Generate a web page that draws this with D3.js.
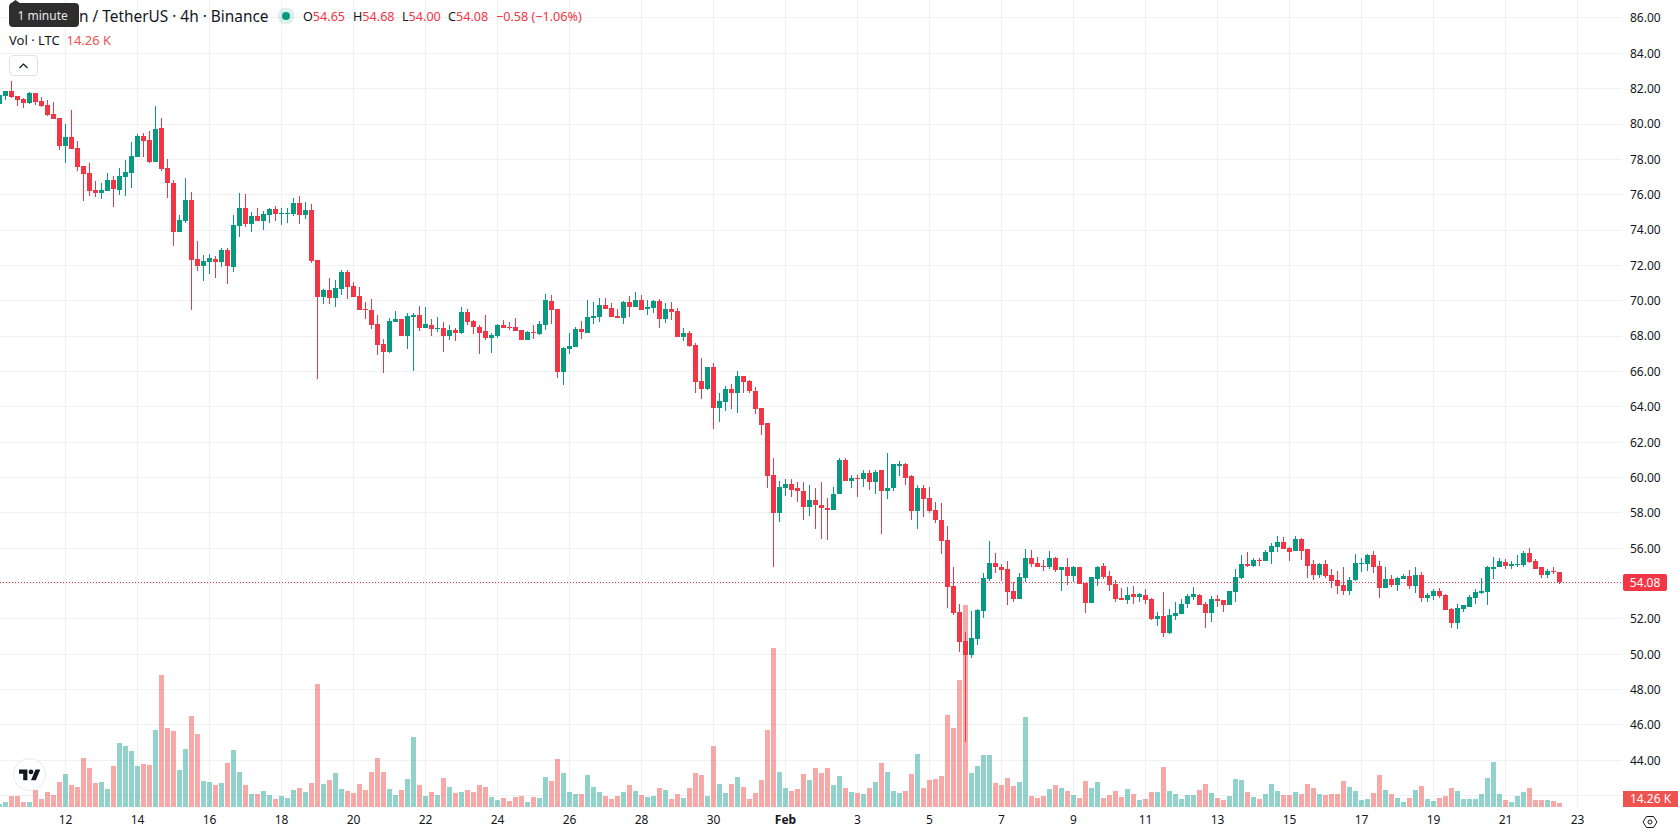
<!DOCTYPE html>
<html>
<head>
<meta charset="utf-8">
<title>LTC/USDT 4h</title>
<script src="https://cdn.jsdelivr.net/npm/d3@7"></script>
<style>
  html, body { margin: 0; padding: 0; background: #fff; overflow: hidden; }
  svg { display: block; font-family: "Noto Sans", sans-serif; }
</style>
</head>
<body>
<svg id="chart" width="1678" height="835"></svg>
<script>
// LTC/USDT, 4-hour candles, first bar opens 10 Jan 04:00 UTC
const firstBar = Date.UTC(2026, 0, 10, 4);
const barHours = 4;

const opens = [
81.13,81.59,81.87,81.59,81.42,81.19,81.76,81.30,81.08,80.57,
80.34,78.75,79.26,78.64,77.62,77.23,76.26,76.09,76.21,76.83,
76.26,77.00,77.23,78.13,79.32,79.09,77.85,79.77,77.51,76.66,
73.89,74.51,75.70,72.36,71.96,72.19,72.36,72.19,72.87,71.91,
74.23,75.25,74.34,74.79,74.51,74.85,75.19,74.93,74.93,74.91,
75.53,74.85,75.13,72.30,70.21,70.60,70.15,70.66,71.62,70.83,
70.26,69.51,69.47,68.68,67.55,67.09,68.79,68.96,68.00,69.08,
69.19,68.45,68.62,68.40,68.45,68.00,68.34,68.17,69.36,68.85,
68.51,68.28,67.89,68.00,68.62,68.51,68.51,68.34,67.77,68.23,
68.11,68.62,69.98,69.53,65.96,67.26,67.38,68.40,68.17,69.02,
69.08,69.75,69.58,69.13,69.02,69.92,69.64,70.04,69.53,69.58,
69.98,68.96,69.53,69.42,67.94,68.17,67.49,65.45,65.00,66.25,
63.92,64.26,65.00,64.77,65.74,65.45,64.92,63.91,63.06,60.17,
58.02,59.43,59.66,59.38,59.26,58.36,58.74,58.47,58.30,58.19,
59.04,61.02,59.83,60.00,59.89,60.23,59.77,60.40,59.21,59.38,
60.68,60.79,60.06,58.08,59.43,58.87,58.19,57.62,56.49,53.89,
52.42,50.77,49.98,50.89,52.47,54.28,55.19,54.96,54.85,53.60,
53.15,54.34,55.42,55.19,55.02,54.96,55.47,54.79,54.91,54.45,
54.91,54.06,52.92,54.28,55.02,54.45,54.00,53.21,53.09,53.43,
53.26,53.38,53.15,52.02,52.19,51.23,52.19,52.30,52.87,53.26,
53.38,52.87,52.36,53.15,53.09,52.81,53.55,54.34,55.13,55.02,
55.36,55.30,55.76,56.09,56.38,56.04,55.87,56.55,55.93,55.08,
54.51,55.13,54.51,54.23,53.94,53.60,54.23,55.15,55.13,55.59,
55.02,53.77,54.28,53.94,54.28,54.45,53.89,54.51,53.21,53.32,
53.60,53.38,52.59,51.79,52.59,52.70,53.21,53.49,53.55,54.85,
54.91,55.23,55.02,55.06,55.06,55.74,55.28,54.94,54.49,54.72,
54.65];

const highs = [
81.66,81.87,82.43,81.59,81.47,81.81,81.76,81.53,81.36,81.25,
80.34,80.00,80.79,79.04,77.62,77.79,76.77,76.66,77.23,77.06,
77.51,77.96,78.98,79.43,79.49,79.60,81.02,80.34,78.02,76.83,
74.85,76.94,76.15,73.38,72.58,72.64,72.53,72.98,72.98,74.85,
76.09,76.04,75.02,75.25,75.08,75.25,75.36,75.25,75.25,75.81,
75.92,75.58,75.47,72.30,70.66,71.28,71.17,71.74,71.74,71.06,
70.77,69.92,70.09,69.19,67.83,69.02,69.42,68.96,69.30,69.30,
69.70,69.64,68.96,69.08,68.79,68.62,68.45,69.64,69.53,68.91,
68.62,69.19,68.17,68.68,68.91,68.79,69.02,68.34,68.28,68.62,
68.85,70.38,70.32,69.53,67.38,68.17,68.51,68.85,70.04,69.92,
70.15,70.15,69.87,69.53,69.98,70.26,70.49,70.32,70.04,70.04,
70.09,69.87,69.92,69.58,68.45,68.28,67.60,66.75,66.25,66.47,
64.77,65.17,65.28,66.02,65.74,65.51,65.15,63.96,63.06,61.13,
59.83,59.89,59.89,59.77,59.72,59.60,59.38,59.72,58.87,59.49,
61.13,61.13,60.17,60.17,60.45,60.45,60.45,60.40,61.36,60.74,
60.96,60.85,60.17,59.60,59.55,59.49,58.64,58.58,57.23,54.96,
52.87,51.28,52.47,52.58,54.62,56.43,55.74,55.08,55.30,54.11,
54.62,55.98,55.92,55.53,55.36,55.87,55.53,54.96,55.47,55.02,
54.91,54.06,54.40,55.02,55.19,54.74,54.23,53.77,53.83,53.89,
53.49,53.72,53.21,52.42,53.55,52.59,52.93,53.15,53.43,53.83,
53.43,52.93,53.32,53.38,53.09,53.60,54.85,55.59,55.76,55.47,
55.47,55.92,56.32,56.72,56.66,56.09,56.72,56.60,55.98,55.36,
55.19,55.36,54.85,54.74,54.96,54.40,55.70,55.47,55.70,55.87,
55.25,54.91,54.51,54.40,54.57,54.79,54.96,54.68,53.49,53.72,
53.77,53.43,52.64,52.87,52.81,53.38,53.72,54.34,55.02,55.53,
55.42,55.40,55.28,55.62,55.85,56.02,55.40,54.94,54.83,54.94,
54.68];

const lows = [
81.10,81.36,81.47,81.02,80.91,81.13,81.08,80.96,80.45,80.28,
78.53,77.79,78.58,77.34,75.64,75.92,75.87,75.76,76.21,75.30,
75.98,75.92,76.38,78.13,78.13,77.79,77.85,77.34,75.81,73.09,
73.89,74.40,69.47,71.68,71.11,71.51,71.28,71.91,70.94,71.62,
73.60,74.17,73.89,74.51,74.00,74.40,74.51,74.28,74.40,74.79,
74.34,74.62,72.13,65.60,69.81,69.81,69.64,70.32,70.09,70.21,
69.47,68.96,68.40,66.92,65.91,67.04,68.79,68.00,67.26,66.02,
68.28,68.45,68.00,68.23,67.09,67.77,67.72,68.11,68.62,68.11,
66.98,67.77,67.04,67.89,68.45,68.34,68.28,67.77,67.77,67.83,
68.06,68.34,68.68,65.62,65.23,66.98,67.38,67.83,68.17,68.68,
68.79,69.53,69.08,69.02,68.68,69.08,69.64,69.47,69.19,69.30,
68.45,68.74,68.91,67.94,67.72,67.38,64.77,64.43,64.94,62.74,
63.13,63.75,63.87,63.64,64.77,64.77,63.57,62.43,59.38,54.96,
57.51,58.98,58.92,58.64,57.62,57.85,57.11,56.55,56.49,58.19,
59.04,59.83,59.43,58.92,59.49,59.32,59.09,56.83,58.81,59.21,
60.06,59.60,57.62,57.06,57.79,58.02,57.40,55.70,52.64,52.25,
50.15,45.06,49.81,50.55,52.08,54.17,54.62,54.17,52.81,52.98,
53.15,54.11,54.96,54.91,54.74,54.85,54.68,53.60,53.94,54.11,
54.00,52.36,52.92,53.89,54.28,53.60,52.98,53.09,52.87,52.87,
52.98,52.87,51.96,51.62,51.00,51.17,51.96,52.30,52.64,53.09,
52.76,51.51,51.85,52.70,52.42,52.81,52.98,54.28,54.96,54.91,
55.02,55.30,55.08,55.81,55.93,55.25,55.87,55.36,54.34,54.23,
54.34,54.34,53.77,53.43,53.38,53.38,54.17,54.68,54.74,54.62,
53.21,53.77,53.83,53.60,54.28,53.72,53.49,52.98,52.98,53.09,
53.21,52.53,51.51,51.45,52.42,52.70,52.87,53.43,52.76,54.28,
54.91,54.83,54.83,54.94,54.94,55.17,54.83,54.32,54.32,54.55,
54.00];

const closes = [
81.64,81.87,81.53,81.36,81.19,81.76,81.25,81.02,80.51,80.28,
78.75,79.26,78.58,77.57,77.17,76.21,76.09,76.26,76.83,76.32,
77.06,77.28,78.19,79.32,79.04,77.85,79.72,77.45,76.66,73.89,
74.57,75.70,72.30,71.96,72.25,72.42,72.19,72.87,71.96,74.28,
75.25,74.34,74.79,74.51,74.91,75.19,74.91,74.96,74.96,75.53,
74.85,75.13,72.25,70.21,70.60,70.15,70.72,71.62,70.77,70.21,
69.47,69.47,68.62,67.49,67.09,68.85,68.96,68.00,69.13,69.19,
68.45,68.68,68.40,68.45,68.00,68.34,68.17,69.36,68.79,68.51,
68.17,67.89,68.06,68.62,68.45,68.45,68.28,67.77,68.23,68.17,
68.68,70.04,69.47,65.96,67.32,67.43,68.40,68.23,69.08,69.13,
69.75,69.53,69.08,69.02,69.92,69.64,70.04,69.47,69.64,69.98,
68.96,69.53,69.36,67.94,68.17,67.43,65.40,65.00,66.25,63.92,
64.32,65.00,64.77,65.74,65.40,64.89,63.85,63.00,60.11,58.02,
59.49,59.66,59.32,59.21,58.36,58.74,58.42,58.25,58.19,59.09,
61.02,59.83,60.00,59.94,60.23,59.77,60.34,59.21,59.43,60.74,
60.79,60.00,58.08,59.43,58.81,58.13,57.57,56.43,53.83,52.36,
50.72,49.98,50.94,52.53,54.34,55.19,54.96,54.79,53.55,53.15,
54.40,55.42,55.13,54.96,54.96,55.47,54.79,54.96,54.45,54.91,
54.00,52.92,54.40,54.96,54.40,53.94,53.15,53.09,53.38,53.26,
53.43,53.09,52.02,52.19,51.23,52.25,52.36,52.87,53.32,53.43,
52.81,52.36,53.15,53.04,52.81,53.60,54.40,55.13,55.02,55.36,
55.32,55.81,56.15,56.38,55.98,55.81,56.55,55.87,55.02,54.51,
55.13,54.45,54.17,53.89,53.60,54.23,55.19,55.19,55.59,54.96,
53.77,54.28,53.94,54.34,54.45,53.89,54.51,53.21,53.38,53.60,
53.32,52.53,51.79,52.64,52.76,53.26,53.55,53.60,54.91,54.96,
55.25,55.00,55.08,55.11,55.74,55.23,54.83,54.49,54.72,54.66,
54.08];

// traded volume per bar, thousands of LTC
const volumes = [
13,18,42,42,18,18,65,30,57,45,96,127,84,77,193,154,92,96,69,158,
248,236,217,158,166,162,302,516,310,298,143,228,353,283,100,96,84,92,170,221,
135,84,49,49,61,45,30,42,34,65,73,57,92,481,88,104,131,69,61,53,
88,65,135,190,135,69,45,65,108,272,84,42,57,45,112,77,53,57,65,57,
84,77,38,26,34,22,38,42,18,38,34,116,100,186,131,57,49,49,124,77,
57,42,30,42,57,84,61,45,38,42,73,65,30,49,34,73,131,124,42,237,
88,53,88,116,77,30,53,104,299,619,135,73,61,69,127,104,151,131,151,84,
120,73,57,53,49,73,96,170,135,61,53,61,127,205,73,104,108,120,358,307,
494,787,131,159,202,202,92,84,112,81,96,350,42,34,42,69,84,73,61,45,
34,100,73,96,34,45,61,38,69,49,26,30,57,57,155,61,49,30,45,45,
65,88,53,34,26,42,108,104,57,38,30,49,88,61,45,45,57,49,88,73,
49,45,49,49,100,77,61,26,30,53,124,65,49,34,18,34,65,81,30,22,
34,42,73,61,30,30,30,49,112,174,49,26,18,42,57,73,26,26,26,22,
14.26];

// axis tick values and labels
const priceTicks = d3.range(44, 88, 2);
const gridPrices = d3.range(42, 88, 2);
const janDays = [12, 14, 16, 18, 20, 22, 24, 26, 28, 30];
const febDays = [1, 3, 5, 7, 9, 11, 13, 15, 17, 19, 21, 23];
const lastPrice = 54.08;
const volumeLabel = "14.26 K";
const legendValues = [["O", "54.65"], ["H", "54.68"], ["L", "54.00"], ["C", "54.08"]];
const legendChange = "−0.58 (−1.06%)";
const legendOffsets = [303, 353, 402, 448];

const UP = "#089981", DOWN = "#F23645";
const UP_VOL = "#26A69A", DOWN_VOL = "#EF5350";
const GRID = "#f0f1f3", INK = "#131722";

const paneRight = 1622, paneBottom = 807;
const bars = opens.map((o, i) => ({
  t: new Date(firstBar + i * barHours * 3600e3),
  o, h: highs[i], l: lows[i], c: closes[i], v: volumes[i]
}));
const tickDates = [
  ...janDays.map(d => new Date(Date.UTC(2026, 0, d))),
  ...febDays.map(d => new Date(Date.UTC(2026, 1, d)))
];

const x = d3.scaleUtc()
  .domain([new Date(firstBar), new Date(Date.UTC(2026, 1, 23))])
  .range([-0.5, 1577.5]);
const y = d3.scaleLinear().domain([42, 86]).range([795.68, 17.98]);
const yVol = d3.scaleLinear().domain([0, 390]).range([paneBottom, paneBottom - 100]);

const svg = d3.select("#chart");

svg.append("defs").append("clipPath").attr("id", "pane")
  .append("rect").attr("width", paneRight).attr("height", paneBottom);

const pane = svg.append("g").attr("clip-path", "url(#pane)");

// grid
const snap = v => Math.floor(v) + 0.5;
pane.append("g").selectAll("line").data(gridPrices).join("line")
  .attr("x1", 0).attr("x2", paneRight)
  .attr("y1", d => snap(y(d))).attr("y2", d => snap(y(d)))
  .attr("stroke", GRID);
pane.append("g").selectAll("line").data(tickDates).join("line")
  .attr("x1", d => snap(x(d))).attr("x2", d => snap(x(d)))
  .attr("y1", 0).attr("y2", paneBottom)
  .attr("stroke", GRID);

// volume histogram
pane.append("g").selectAll("rect").data(bars).join("rect")
  .attr("x", d => Math.floor(x(d.t)) - 2)
  .attr("width", 5)
  .attr("y", d => Math.round(yVol(d.v)))
  .attr("height", d => paneBottom - Math.round(yVol(d.v)))
  .attr("fill", d => d.c >= d.o ? UP_VOL : DOWN_VOL)
  .attr("fill-opacity", 0.5);

// candles
const candle = pane.append("g").selectAll("g").data(bars).join("g")
  .attr("fill", d => d.c >= d.o ? UP : DOWN);
candle.append("rect")
  .attr("x", d => Math.floor(x(d.t)))
  .attr("width", 1)
  .attr("y", d => Math.round(y(d.h)))
  .attr("height", d => Math.max(1, Math.round(y(d.l)) - Math.round(y(d.h))));
candle.append("rect")
  .attr("x", d => Math.floor(x(d.t)) - 2)
  .attr("width", 5)
  .attr("y", d => Math.round(y(Math.max(d.o, d.c))))
  .attr("height", d => Math.max(1, Math.round(y(Math.min(d.o, d.c))) - Math.round(y(Math.max(d.o, d.c)))));

// last price line
pane.append("line")
  .attr("x1", 0).attr("x2", paneRight)
  .attr("y1", snap(y(lastPrice))).attr("y2", snap(y(lastPrice)))
  .attr("stroke", DOWN).attr("stroke-dasharray", "1 2");

// price axis
const yAxis = svg.append("g")
  .attr("transform", `translate(1630,0)`)
  .call(d3.axisRight(y).tickValues(priceTicks).tickFormat(d3.format(".2f")).tickSize(0).tickPadding(0));
yAxis.select(".domain").remove();
yAxis.selectAll("text").attr("font-size", 12).attr("font-family", "Noto Sans").attr("fill", INK);

// time axis
const feb1 = +new Date(Date.UTC(2026, 1, 1));
const xAxis = svg.append("g")
  .attr("transform", `translate(0,${paneBottom})`)
  .call(d3.axisBottom(x).tickValues(tickDates).offset(0)
    .tickFormat(d => +d === feb1 ? "Feb" : String(d.getUTCDate()))
    .tickSize(0).tickPadding(8));
xAxis.select(".domain").remove();
xAxis.selectAll("text")
  .attr("font-size", 12).attr("font-family", "Noto Sans").attr("fill", INK)
  .attr("font-weight", d => +d === feb1 ? 700 : 400);

// price tags on the axis
const tag = svg.append("g");
tag.append("rect").attr("x", 1623).attr("y", 574).attr("width", 44).attr("height", 17).attr("rx", 2)
  .attr("fill", DOWN);
tag.append("text").attr("x", 1645).attr("y", 586.5).attr("text-anchor", "middle")
  .attr("font-size", 12).attr("fill", "#fff").text(lastPrice.toFixed(2));
tag.append("rect").attr("x", 1623).attr("y", 791).attr("width", 55).attr("height", 16)
  .attr("fill", DOWN_VOL);
tag.append("text").attr("x", 1650.5).attr("y", 803).attr("text-anchor", "middle")
  .attr("font-size", 12).attr("fill", "#fff").text(volumeLabel);

// settings glyph in the axis corner
const gear = svg.append("g").attr("transform", "translate(1650,822)")
  .attr("fill", "none").attr("stroke", INK);
gear.append("path").attr("d", "M-7 0L-3.5-5.5H3.5L7 0L3.5 5.5H-3.5Z");
gear.append("circle").attr("r", 2);

// legend
const legend = svg.append("g").attr("fill", INK);
legend.append("text").attr("x", 268.5).attr("y", 21.5).attr("font-size", 15.4).attr("text-anchor", "end")
  .text("Litecoin / TetherUS · 4h · Binance");
legend.append("circle").attr("cx", 286).attr("cy", 16).attr("r", 8.5).attr("fill", UP).attr("fill-opacity", 0.14);
legend.append("circle").attr("cx", 286).attr("cy", 16).attr("r", 4).attr("fill", UP);
legendValues.forEach(([k, v], i) => {
  const t = legend.append("text").attr("x", legendOffsets[i]).attr("y", 21).attr("font-size", 12.6);
  t.append("tspan").text(k);
  t.append("tspan").attr("fill", DOWN).text(v);
});
legend.append("text").attr("x", 496).attr("y", 21).attr("font-size", 12.6).attr("fill", DOWN).text(legendChange);
legend.append("text").attr("x", 9).attr("y", 45).attr("font-size", 13).text("Vol · LTC");
legend.append("text").attr("x", 66.5).attr("y", 45).attr("font-size", 13).attr("fill", DOWN_VOL).text(volumeLabel);

// collapse button
const btn = svg.append("g");
btn.append("rect").attr("x", 9.5).attr("y", 55.5).attr("width", 28).attr("height", 20).attr("rx", 3.5)
  .attr("fill", "#fff").attr("stroke", "#e0e3eb");
btn.append("path").attr("d", "M19.5 68L23.5 64L27.5 68").attr("fill", "none").attr("stroke", INK).attr("stroke-width", 1.2);

// hover tip over the title
const tip = svg.append("g");
tip.append("path").attr("d", "M10 4L15.5 0L21 4Z").attr("fill", "#2e2e2e");
tip.append("rect").attr("x", 9).attr("y", 3).attr("width", 70).attr("height", 24).attr("rx", 4).attr("fill", "#2e2e2e");
tip.append("text").attr("x", 17.5).attr("y", 19.5).attr("font-size", 12).attr("fill", "#e8e8e8").text("1 minute");

// watermark badge
const badge = svg.append("g").attr("transform", "translate(29.5,774.5)");
badge.append("circle").attr("r", 16).attr("fill", "#fff").attr("stroke", "#e8eaf0").attr("stroke-width", 1);
badge.append("g").attr("transform", "translate(-10.5,-7.4) scale(0.6)").attr("fill", INK).call(g => {
  g.append("path").attr("d", "M14 22H7V11H0V4h14v18zM28 22h-8l7.5-18h8L28 22z");
  g.append("circle").attr("cx", 20).attr("cy", 8).attr("r", 4);
});
</script>
</body>
</html>
